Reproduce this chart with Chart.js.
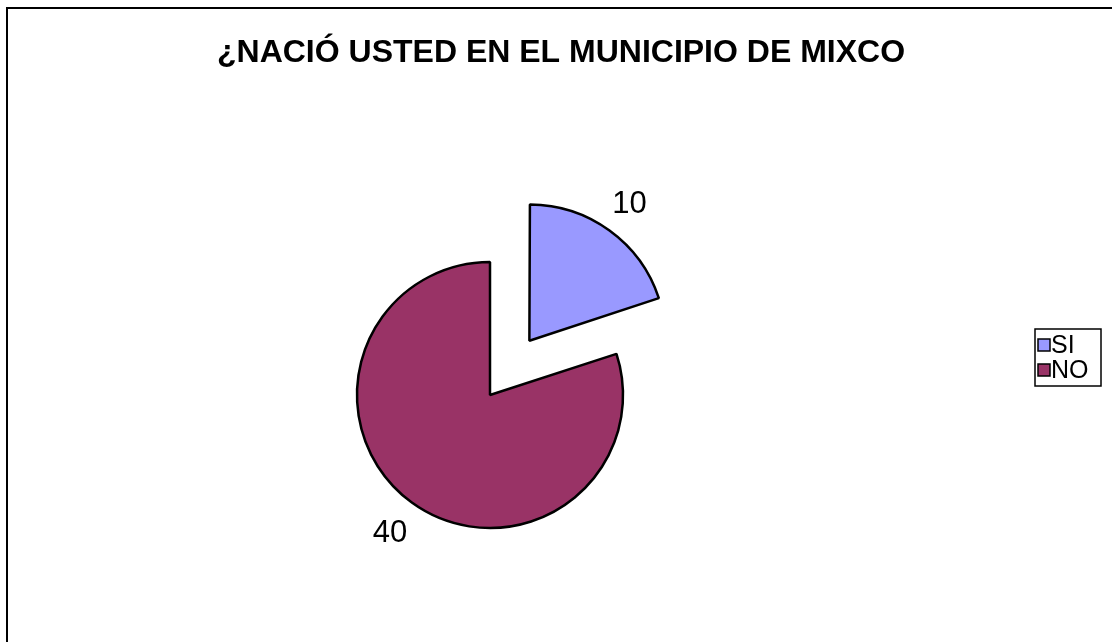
<!DOCTYPE html>
<html>
<head>
<meta charset="utf-8">
<script src="https://cdn.jsdelivr.net/npm/chart.js@4"></script>
<style>
html,body{margin:0;padding:0;background:#fff;}
#wrap{width:1112px;height:642px;}
</style>
</head>
<body>
<div id="wrap"><canvas id="c" width="1112" height="642"></canvas></div>
<script>
const titleText = "¿NACIÓ USTED EN EL MUNICIPIO DE MIXCO";
const categories = ["SI", "NO"];
const values = [10, 40];
const sliceColors = ["#9999FF", "#993366"];
// Chart.js v4 draws an arc offset at 1/4 of the option value
const sliceOffsets = [268, 0];

const FONT = "'Liberation Sans', Arial, Helvetica, sans-serif";

const framePlugin = {
  id: 'frame',
  beforeDraw(chart) {
    const ctx = chart.ctx;
    ctx.save();
    ctx.fillStyle = '#fff';
    ctx.fillRect(0, 0, chart.width, chart.height);
    ctx.strokeStyle = '#000';
    ctx.lineWidth = 2;
    ctx.strokeRect(7, 8, chart.width + 20, chart.height + 20);
    ctx.restore();
  }
};

const placePlugin = {
  id: 'place',
  afterLayout(chart) {
    const a = chart.chartArea;
    a.left = 10; a.right = 970;
    a.top = 150; a.bottom = 640;
    a.width = a.right - a.left;
    a.height = a.bottom - a.top;
  }
};

const labelPlugin = {
  id: 'sliceLabels',
  afterDatasetsDraw(chart) {
    const ctx = chart.ctx;
    const meta = chart.getDatasetMeta(0);
    ctx.save();
    ctx.fillStyle = '#000';
    ctx.font = '31px ' + FONT;
    ctx.textAlign = 'center';
    ctx.textBaseline = 'middle';
    meta.data.forEach((el, i) => {
      const p = el.getProps(['x', 'y', 'startAngle', 'endAngle', 'outerRadius'], true);
      const mid = (p.startAngle + p.endAngle) / 2;
      const off = (el.options.offset || 0) / 4;
      const r = off + p.outerRadius * 1.28;
      ctx.fillText(String(chart.data.datasets[0].data[i]), p.x + Math.cos(mid) * r, p.y + Math.sin(mid) * r + 1);
    });
    ctx.restore();
  }
};

const legendPlugin = {
  id: 'boxLegend',
  afterDraw(chart) {
    const ctx = chart.ctx;
    const ds = chart.data.datasets[0];
    const bx = 1035, by = 329, bw = 66, bh = 57;
    ctx.save();
    ctx.strokeStyle = '#000';
    ctx.lineWidth = 1.5;
    ctx.strokeRect(bx, by, bw, bh);
    ctx.font = '25px ' + FONT;
    ctx.textBaseline = 'middle';
    ctx.textAlign = 'left';
    chart.data.labels.forEach((lab, i) => {
      const cy = by + 16 + i * 25;
      ctx.fillStyle = ds.backgroundColor[i];
      ctx.fillRect(bx + 3, cy - 6, 12, 12);
      ctx.lineWidth = 1.5;
      ctx.strokeStyle = '#000';
      ctx.strokeRect(bx + 3, cy - 6, 12, 12);
      ctx.fillStyle = '#000';
      ctx.fillText(lab, bx + 16, cy + 1);
    });
    ctx.restore();
  }
};

new Chart(document.getElementById('c'), {
  type: 'pie',
  data: {
    labels: categories,
    datasets: [{
      data: values,
      backgroundColor: sliceColors,
      borderColor: '#000',
      borderWidth: 2.5,
      offset: sliceOffsets,
      radius: 133
    }]
  },
  options: {
    responsive: false,
    animation: false,
    layout: { padding: { left: 10, right: 0, top: 0, bottom: 0 } },
    plugins: {
      legend: { display: false },
      tooltip: { enabled: false },
      title: {
        display: true,
        text: titleText,
        color: '#000',
        font: { family: FONT, size: 32, weight: 'bold' },
        padding: { top: 34, bottom: 20 }
      }
    }
  },
  plugins: [framePlugin, placePlugin, labelPlugin, legendPlugin]
});
</script>
</body>
</html>
